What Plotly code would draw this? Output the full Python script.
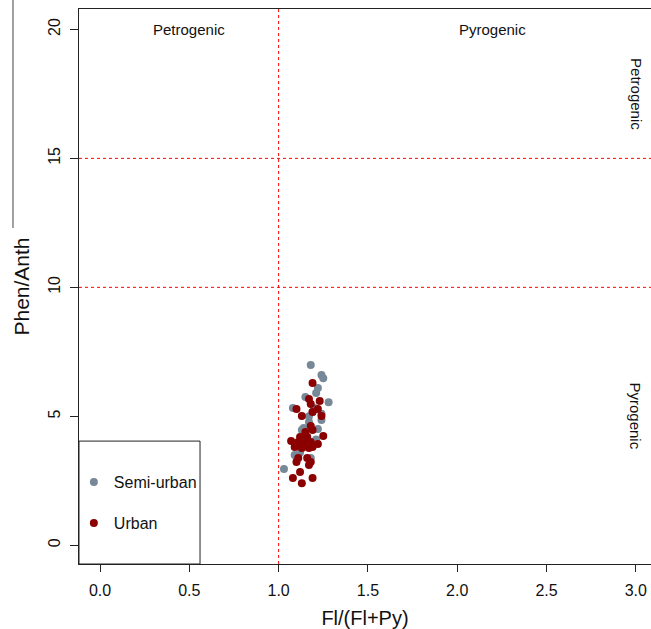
import plotly.graph_objects as go

# Fl/(Fl+Py) vs Phen/Anth diagnostic ratios by site type
semi_urban_x = [1.18, 1.24, 1.25, 1.22, 1.21, 1.15, 1.28, 1.08, 1.19, 1.20, 1.24, 1.17,
                1.14, 1.13, 1.22, 1.09, 1.10, 1.18, 1.03, 1.16, 1.19, 1.14, 1.21, 1.12,
                1.17, 1.24]
semi_urban_y = [6.99, 6.60, 6.48, 6.10, 5.90, 5.75, 5.55, 5.32, 5.17, 5.32, 4.86, 4.78,
                4.55, 4.47, 4.51, 3.50, 3.42, 3.38, 2.96, 4.20, 3.90, 3.80, 4.10, 3.60,
                5.00, 5.10]

urban_x = [1.19, 1.17, 1.23, 1.18, 1.10, 1.22, 1.19, 1.13, 1.24, 1.18, 1.15, 1.19,
           1.12, 1.16, 1.25, 1.07, 1.11, 1.14, 1.18, 1.09, 1.13, 1.17, 1.19, 1.22,
           1.11, 1.10, 1.16, 1.18, 1.17, 1.12, 1.08, 1.13, 1.19]
urban_y = [6.29, 5.67, 5.59, 5.48, 5.28, 5.28, 5.17, 5.01, 5.01, 4.62, 4.39, 4.47,
           4.20, 4.20, 4.24, 4.04, 4.00, 3.97, 4.00, 3.81, 3.77, 3.77, 3.81, 3.93,
           3.38, 3.23, 3.38, 3.23, 3.11, 2.84, 2.61, 2.41, 2.61]

x_ticks = [0.0, 0.5, 1.0, 1.5, 2.0, 2.5, 3.0]
y_ticks = [0, 5, 10, 15, 20]

# Threshold values separating source regions
fl_threshold = 1.0
phen_thresholds = [10, 15]

# Region labels: (x, y, text, angle)
region_labels = [
    (0.5, 20.0, "Petrogenic", 0),
    (2.2, 20.0, "Pyrogenic", 0),
    (3.0, 17.5, "Petrogenic", 90),
    (3.0, 5.0, "Pyrogenic", 90),
]

XMIN, XMAX = -0.1176, 3.085
YMIN, YMAX = -0.725, 20.79
FONT = "Liberation Sans, Arial, sans-serif"

fig = go.Figure()
fig.add_trace(go.Scatter(
    x=semi_urban_x, y=semi_urban_y, mode="markers", name="Semi-urban",
    legendgroup="a",
    marker=dict(color="#778899", size=8, line=dict(width=0)),
))
fig.add_trace(go.Scatter(
    x=urban_x, y=urban_y, mode="markers", name="Urban",
    legendgroup="b",
    marker=dict(color="#8B0000", size=8, line=dict(width=0)),
))

shapes = [
    dict(type="line", xref="x", yref="paper", x0=fl_threshold, x1=fl_threshold,
         y0=0, y1=1, line=dict(color="red", width=1, dash="dot"), layer="below"),
]
for t in phen_thresholds:
    shapes.append(dict(type="line", xref="paper", yref="y", x0=0, x1=1, y0=t, y1=t,
                       line=dict(color="red", width=1, dash="dot"), layer="below"))
# legend frame
shapes.append(dict(type="rect", xref="x", yref="y", x0=XMIN, x1=0.56, y0=YMIN, y1=4.04,
                   line=dict(color="#222", width=1), fillcolor="rgba(0,0,0,0)"))
# stray rule at the far left
shapes.append(dict(type="line", xref="paper", yref="paper", x0=-0.1154, x1=-0.1154,
                   y0=0.6054, y1=1.02, line=dict(color="#444", width=1)))

annotations = []
for x, y, text, ang in region_labels:
    annotations.append(dict(x=x, y=y, xref="x", yref="y", text=text, showarrow=False,
                            textangle=ang, font=dict(family=FONT, size=15, color="#111")))

fig.update_layout(
    width=651, height=629,
    margin=dict(l=79, r=0, t=9, b=65),
    paper_bgcolor="white", plot_bgcolor="white",
    font=dict(family=FONT, size=16, color="#111"),
    shapes=shapes, annotations=annotations,
    showlegend=True,
    legend=dict(x=-0.009, y=0.178, xanchor="left", yanchor="top",
                bgcolor="rgba(0,0,0,0)", borderwidth=0,
                font=dict(family=FONT, size=16, color="#111"),
                tracegroupgap=17),
    xaxis=dict(range=[XMIN, XMAX], tickvals=x_ticks,
               ticktext=[f"{v:.1f}" for v in x_ticks],
               showgrid=False, zeroline=False, showline=True, mirror=True,
               linecolor="#222", linewidth=1, ticks="outside", ticklen=7,
               tickcolor="#222", ticklabelstandoff=5,
               title=dict(text="Fl/(Fl+Py)", font=dict(family=FONT, size=20),
                          standoff=12)),
    yaxis=dict(range=[YMIN, YMAX], tickvals=y_ticks,
               ticktext=[str(v) for v in y_ticks], tickangle=-90,
               showgrid=False, zeroline=False, showline=True, mirror=False,
               linecolor="#222", linewidth=1, ticks="outside", ticklen=8,
               tickcolor="#222", ticklabelstandoff=4,
               title=dict(text="Phen/Anth", font=dict(family=FONT, size=21),
                          standoff=10)),
)

fig.write_html("out.html")
